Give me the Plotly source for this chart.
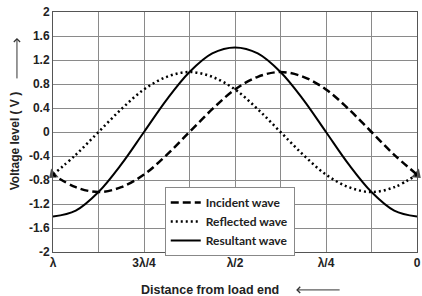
import plotly.graph_objects as go

# distance from load end, in wavelengths (0 = load, 1 = lambda)
dist = [0, 0.0625, 0.125, 0.1875, 0.25, 0.3125, 0.375, 0.4375, 0.5,
        0.5625, 0.625, 0.6875, 0.75, 0.8125, 0.875, 0.9375, 1.0]
incident = [-0.71, -0.38, 0.0, 0.38, 0.71, 0.92, 1.0, 0.92, 0.71,
            0.38, 0.0, -0.38, -0.71, -0.92, -1.0, -0.92, -0.71]
reflected = [-0.71, -0.92, -1.0, -0.92, -0.71, -0.38, 0.0, 0.38, 0.71,
             0.92, 1.0, 0.92, 0.71, 0.38, 0.0, -0.38, -0.71]
resultant = [-1.41, -1.31, -1.0, -0.54, 0.0, 0.54, 1.0, 1.31, 1.41,
             1.31, 1.0, 0.54, 0.0, -0.54, -1.0, -1.31, -1.41]

x_tickvals = [1, 0.875, 0.75, 0.625, 0.5, 0.375, 0.25, 0.125, 0]
x_ticktext = ["λ", "", "3λ/4", "", "λ/2", "", "λ/4", "", "0"]
y_tickvals = [2, 1.6, 1.2, 0.8, 0.4, 0, -0.4, -0.8, -1.2, -1.6, -2]
y_ticktext = ["2", "1.6", "1.2", "0.8", "0.4", "0", "-0.4", "-0.8", "-1.2", "-1.6", "-2"]

fig = go.Figure()
fig.add_trace(go.Scatter(x=dist, y=incident, mode="lines", name="Incident wave",
                         line=dict(color="black", width=2.5, dash="8px,4px", shape="spline")))
fig.add_trace(go.Scatter(x=dist, y=reflected, mode="lines", name="Reflected wave",
                         line=dict(color="black", width=2.5, dash="2px,3px", shape="spline")))
fig.add_trace(go.Scatter(x=dist, y=resultant, mode="lines", name="Resultant wave",
                         line=dict(color="black", width=2, shape="spline")))

# arrowheads at the ends of the travelling waves
arrow_marker = dict(symbol="triangle-up", size=[0, 10], color="black", angleref="previous",
                    line=dict(color="black", width=0))
fig.add_trace(go.Scatter(x=[dist[1], dist[0]], y=[incident[1], incident[0]], mode="markers",
                         showlegend=False, hoverinfo="skip", marker=arrow_marker, cliponaxis=False))
fig.add_trace(go.Scatter(x=[dist[-2], dist[-1]], y=[reflected[-2], reflected[-1]], mode="markers",
                         showlegend=False, hoverinfo="skip", marker=arrow_marker, cliponaxis=False))

tickfont = dict(family="Liberation Sans", size=12, color="#222", weight="bold")

fig.update_xaxes(range=[1, 0], tickvals=x_tickvals, ticktext=x_ticktext, showgrid=True,
                 gridcolor="#8a8a8a", gridwidth=1, showline=True, linecolor="#555", linewidth=1,
                 mirror=True, zeroline=False, ticks="", tickfont=tickfont, automargin=False)
fig.update_yaxes(range=[-2, 2], tickvals=y_tickvals, ticktext=y_ticktext, showgrid=True,
                 gridcolor="#8a8a8a", gridwidth=1, showline=True, linecolor="#555", linewidth=1,
                 mirror=True, zeroline=False, ticks="", tickfont=tickfont, automargin=False)

fig.add_annotation(text="Distance from load end", xref="paper", yref="paper", x=0.43, y=-0.158,
                   showarrow=False, xanchor="center", yanchor="middle",
                   font=dict(family="Liberation Sans", size=12.5, color="#222", weight="bold"))
fig.add_annotation(text="", xref="paper", yref="paper", x=0.668, y=-0.158, ax=45, ay=0,
                   showarrow=True, arrowhead=4, arrowsize=1.2, arrowwidth=1, arrowcolor="#333")
fig.add_annotation(text="Voltage level ( V )", xref="paper", yref="paper", x=-0.104, y=0.462,
                   showarrow=False, textangle=-90, xanchor="center", yanchor="middle",
                   font=dict(family="Liberation Sans", size=12, color="#222", weight="bold"))
fig.add_annotation(text="", xref="paper", yref="paper", x=-0.099, y=0.892, ax=0, ay=42,
                   showarrow=True, arrowhead=4, arrowsize=1.2, arrowwidth=1, arrowcolor="#333")

fig.update_layout(
    width=422, height=296,
    margin=dict(l=53, r=5, t=12, b=44),
    paper_bgcolor="white", plot_bgcolor="white",
    legend=dict(x=0.307, y=0.271, xanchor="left", yanchor="top",
                bgcolor="white", bordercolor="#888", borderwidth=1,
                font=dict(family="Lato", size=12, color="#222", weight="bold"),
                itemwidth=30, tracegroupgap=0),
    showlegend=True,
)

fig.write_html("out.html", config={"displayModeBar": False},
               post_script="document.body.style.margin='0';document.body.style.overflow='hidden';")
